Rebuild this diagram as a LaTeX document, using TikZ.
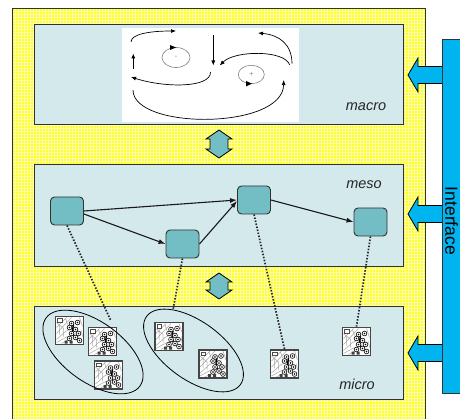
\documentclass[tikz,border=0pt]{standalone}
\usepackage{fontspec}
\setmainfont{Liberation Sans}
\usetikzlibrary{arrows.meta}
\definecolor{yel}{RGB}{255,255,40}
\definecolor{yelgrid}{RGB}{255,255,175}
\definecolor{boxfill}{RGB}{211,233,236}
\definecolor{tealn}{RGB}{114,190,196}
\definecolor{ifblue}{RGB}{0,180,240}
\definecolor{edgec}{RGB}{50,50,50}
\definecolor{icoframe}{RGB}{70,70,70}
\newcommand\iconart{%
  \begin{scope}[shift={(path picture bounding box.center)}, line width=0.5pt]
    \draw[gray!70] (-13,-3) -- (-3,-13) (-13,3) -- (2,-13) (-13,9) -- (-4,1) -- (4,-3)
      (-13,12) -- (-2,6) (-8,13) -- (-1,9) (-13,-8) -- (-6,-2) -- (-6,6)
      (-10,-6) -- (-10,4) (-4,-12) -- (-2,-6) (10,-13) -- (13,-4) (12,0) -- (13,6);
    \fill[black!70] (-12.5,-12.5) rectangle (-7,-8);
    \fill[white] (-11.5,-11.5) rectangle (-8,-9);
    \draw[black, line width=1.4pt] (4,-6) -- (3,0) -- (5,8);
    \foreach \p in {(2,-7),(8,-8),(0,-3),(6,-1),(2,3),(9,3),(6,7),(0,8),(10,10)}
      {\draw[black, fill=white, line width=0.6pt] \p circle (2.4); \fill[black] \p circle (0.9);}
    \fill[black!75] (-5,10) rectangle (-2,13) (0,10) rectangle (3,13);
  \end{scope}}
\tikzset{
  layer/.style={draw=edgec, line width=1pt, fill=boxfill, inner sep=0pt, anchor=north west},
  lbl/.style={font=\fontsize{14.5}{16}\selectfont\itshape, text=black!85},
  mesonode/.style={draw=edgec, line width=0.9pt, fill=tealn, rounded corners=4pt,
    minimum width=33pt, minimum height=28pt, inner sep=0pt},
  meso arrow/.style={line width=1.1pt, draw=black!90, -{Latex[length=7pt,width=5pt]}},
  mac/.style={line width=0.7pt, -{Latex[length=5pt,width=4pt]}},
  dotlink/.style={line width=1.7pt, dash pattern=on 1.5pt off 1.6pt, draw=black!85},
  icon/.style={draw=icoframe, line width=1.8pt, fill=white, minimum size=28pt,
    inner sep=0pt, path picture={\iconart}},
  grp/.style={line width=0.8pt, draw=black},
  blockarrow/.style={draw=black, line width=0.8pt}
}
\begin{document}
\begin{tikzpicture}[x=1pt,y=-1pt]
\useasboundingbox (0,0) rectangle (460,419);
\clip (0,0) rectangle (460,419);
% yellow background with grid
\fill[yel] (12,8) rectangle (425,430);
\foreach \i in {0,...,137} \draw[yelgrid, line width=0.5pt] (12+3*\i,8) -- (12+3*\i,430);
\foreach \j in {0,...,140} \draw[yelgrid, line width=0.5pt] (12,8+3*\j) -- (425,8+3*\j);
\draw[edgec, line width=0.8pt] (12,8) rectangle (425,430);

% layers
\node[layer, minimum width=369pt, minimum height=100pt] (macrobox) at (34,24) {};
\node[layer, minimum width=369pt, minimum height=102pt] (mesobox) at (34,164) {};
\node[layer, minimum width=369pt, minimum height=93pt] (microbox) at (34,306) {};
\node[lbl] (macrolbl) at (366,107) {macro};
\node[lbl] (mesolbl) at (364,185) {meso};
\node[lbl] (microlbl) at (357,384) {micro};

% macro causal-loop picture
\fill[white] (122,28) rectangle (299,122);
\draw[mac] (131,42) .. controls (131,34) and (150,31) .. (176,31);
\draw[mac] (133.3,69) -- (133.3,53.5);
\draw[gray, line width=0.6pt] (176,57.5) ellipse [x radius=14, y radius=10];
\fill (170,45) -- (176,47.5) -- (170,50) -- cycle;
\node[font=\fontsize{7}{7}\selectfont, text=gray] (minus) at (176,57.5) {-};
\draw[mac] (213.3,35) -- (213.3,65.5);
\draw[mac] (210.5,72) .. controls (211,88) and (165,88) .. (131,77);
\draw[mac] (289.7,65) .. controls (285,50) and (235,50) .. (219.7,65.5);
\draw[gray, line width=0.6pt] (251.3,74.5) ellipse [x radius=13, y radius=9.2];
\fill (246,81) -- (252,83.7) -- (246,86.4) -- cycle;
\node[font=\fontsize{7}{7}\selectfont, text=gray] (plus) at (251.3,74.5) {+};
\draw[mac] (292,63.7) .. controls (292,45) and (280,35) .. (258,33);
\draw[mac] (133,90) .. controls (133,130) and (283,130) .. (283.7,80);

% double arrows between layers
\draw[blockarrow, fill=tealn] (219,130) -- (232,139) -- (228,139) -- (228,149) -- (232,149)
  -- (219,158) -- (206,149) -- (210,149) -- (210,139) -- (206,139) -- cycle;
\draw[blockarrow, fill=tealn] (219,273) -- (232,282) -- (228,282) -- (228,290) -- (232,290)
  -- (219,299) -- (206,290) -- (210,290) -- (210,282) -- (206,282) -- cycle;

% meso nodes
\node[mesonode] (A) at (67,211) {};
\node[mesonode] (B) at (182.5,244) {};
\node[mesonode] (C) at (254,200) {};
\node[mesonode] (D) at (370.5,222) {};
\draw[meso arrow] (A.east) -- (C.west);
\draw[meso arrow] ([yshift=-3pt]A.east) -- (B.west);
\draw[meso arrow] (B.east) -- ([yshift=-1pt]C.west);
\draw[meso arrow] (C.east) -- (D.west);

% micro icons
\node[icon] (i1) at (69.5,330.5) {};
\node[icon] (i2) at (102.5,341.5) {};
\node[icon] (i3) at (108.5,375) {};
\node[icon] (i4) at (169,336.5) {};
\node[icon] (i5) at (213,364) {};
\node[icon] (i6) at (284.5,364) {};
\node[icon] (i7) at (356.5,341.5) {};
\draw[grp, rotate around={-36:(93,352)}] (93,352) ellipse [x radius=58, y radius=30];
\draw[grp, rotate around={-36:(193.5,350.5)}] (193.5,350.5) ellipse [x radius=58, y radius=29];
\coordinate (e1) at (111,321);
\coordinate (e2) at (173,310);

% dotted links
\draw[dotlink] (A.south) -- (e1);
\draw[dotlink] (B.south) -- (e2);
\draw[dotlink] (C.south) -- (i6.north);
\draw[dotlink] (D.south) -- (i7.north);

% interface
\foreach \c in {75,214,353}
  \draw[blockarrow, fill=ifblue] (408,\c) -- (418,\c-17) -- (418,\c-8.5) -- (443,\c-8.5)
    -- (443,\c+8.5) -- (418,\c+8.5) -- (418,\c+17) -- cycle;
\node[draw=edgec, line width=0.9pt, fill=ifblue, minimum width=22pt, minimum height=354pt,
  inner sep=0pt, anchor=north west] (iface) at (442,39) {};
\node[rotate=-90, font=\fontsize{17.5}{20}\selectfont] (ifacelbl) at (451.5,221) {Interface};
\end{tikzpicture}
\end{document}
